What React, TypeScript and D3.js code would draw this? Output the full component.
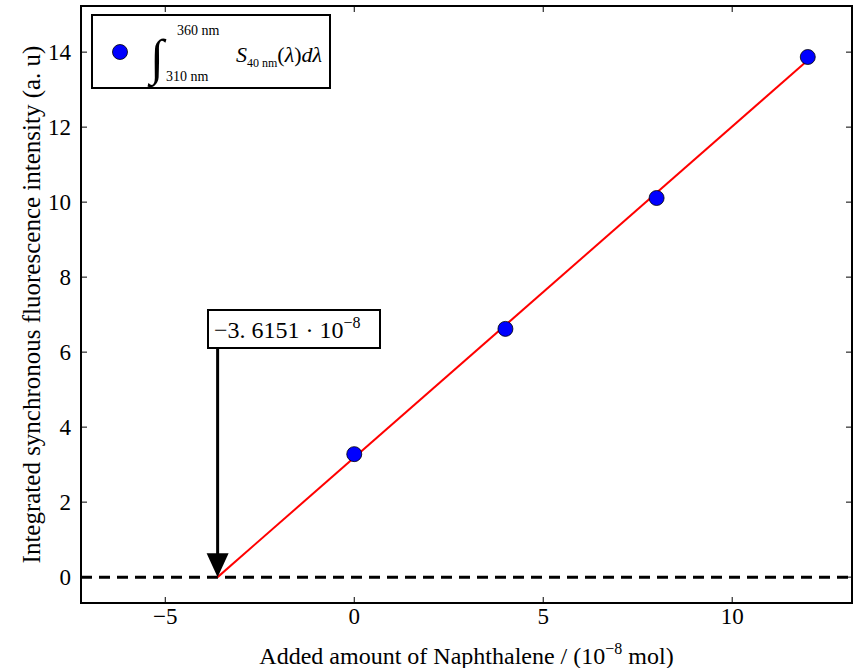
import React from "react";
import * as d3 from "d3";

const amounts = [0, 4, 8, 12];
const intensities = [3.28, 6.62, 10.11, 13.87];
const xIntercept = -3.6151;
const fitSlope = 0.8825;
const xTicks = [-5, 0, 5, 10];
const yTicks = [0, 2, 4, 6, 8, 10, 12, 14];
const xDomain = [-7.23, 13.17];
const yDomain = [-0.69, 15.23];

const W = 856, H = 668;
const L = 81, R = 852, T = 6, B = 603;
const FONT = "'Liberation Serif', 'DejaVu Serif', serif";

export default function App() {
  const x = d3.scaleLinear().domain(xDomain).range([L, R]);
  const y = d3.scaleLinear().domain(yDomain).range([B, T]);
  const fitX = [xIntercept, amounts[amounts.length - 1]];
  const fitLine = d3.line<number>().x((d) => x(d)).y((d) => y(fitSlope * (d - xIntercept)));
  const ax = x(xIntercept);
  const tick = 6;
  return (
    <svg width={W} height={H} style={{ position: "absolute", left: 0, top: 0, background: "#fff" }}>
      <rect x={0} y={0} width={W} height={H} fill="#fff" />
      {/* dashed zero line */}
      <line x1={L} x2={R} y1={y(0)} y2={y(0)} stroke="#000" strokeWidth={3} strokeDasharray="11,7" />
      {/* fit line */}
      <path d={fitLine(fitX) || ""} stroke="#ff0000" strokeWidth={2} fill="none" />
      {/* points */}
      {amounts.map((a, i) => (
        <circle key={i} cx={x(a)} cy={y(intensities[i])} r={7.5} fill="#0000ff" stroke="#000" strokeWidth={0.8} />
      ))}
      {/* annotation arrow */}
      <line x1={ax} x2={ax} y1={348} y2={y(0) - 22} stroke="#000" strokeWidth={3} />
      <path d={`M${ax - 11},${y(0) - 24} L${ax + 11},${y(0) - 24} L${ax},${y(0)} Z`} fill="#000" />
      <rect x={208} y={310} width={172} height={38} fill="#fff" stroke="#000" strokeWidth={2} />
      <text x={214} y={338} fontFamily={FONT} fontSize={24}>
        <tspan>−3. 6151 · 10</tspan>
        <tspan fontSize={16} dy={-10}>−8</tspan>
      </text>
      {/* frame */}
      <rect x={L} y={T} width={R - L} height={B - T} fill="none" stroke="#000" strokeWidth={2} />
      {/* ticks */}
      {xTicks.map((t) => (
        <g key={"x" + t}>
          <line x1={x(t)} x2={x(t)} y1={B} y2={B - tick} stroke="#000" strokeWidth={1} />
          <line x1={x(t)} x2={x(t)} y1={T} y2={T + tick} stroke="#000" strokeWidth={1} />
          <text x={x(t)} y={624} textAnchor="middle" fontFamily={FONT} fontSize={23}>
            {t < 0 ? "−" + Math.abs(t) : t}
          </text>
        </g>
      ))}
      {yTicks.map((t) => (
        <g key={"y" + t}>
          <line x1={L} x2={L + tick} y1={y(t)} y2={y(t)} stroke="#000" strokeWidth={1} />
          <line x1={R} x2={R - tick} y1={y(t)} y2={y(t)} stroke="#000" strokeWidth={1} />
          <text x={71} y={y(t) + 8} textAnchor="end" fontFamily={FONT} fontSize={23}>
            {t}
          </text>
        </g>
      ))}
      {/* axis labels */}
      <text x={(L + R) / 2} y={664} textAnchor="middle" fontFamily={FONT} fontSize={24}>
        <tspan>Added amount of Naphthalene / (10</tspan>
        <tspan fontSize={16} dy={-10}>−8</tspan>
        <tspan dy={10}> mol)</tspan>
      </text>
      <text transform={`translate(40,${(T + B) / 2}) rotate(-90)`} textAnchor="middle" fontFamily={FONT} fontSize={25}>
        Integrated synchronous fluorescence intensity (a. u)
      </text>
      {/* legend */}
      <rect x={92} y={15} width={238} height={73} fill="#fff" stroke="#000" strokeWidth={2} />
      <circle cx={120} cy={52} r={7.5} fill="#0000ff" stroke="#000" strokeWidth={0.8} />
      <text x={150} y={74} fontFamily={FONT} fontSize={50} fontStyle="italic">∫</text>
      <text x={177} y={35} fontFamily={FONT} fontSize={14}>360 nm</text>
      <text x={166} y={81} fontFamily={FONT} fontSize={14}>310 nm</text>
      <text x={236} y={62} fontFamily={FONT} fontSize={22}>
        <tspan fontStyle="italic">S</tspan>
        <tspan fontSize={12} dy={5}>40 nm</tspan>
        <tspan dy={-5}>(</tspan>
        <tspan fontStyle="italic">λ</tspan>
        <tspan>)</tspan>
        <tspan fontStyle="italic">dλ</tspan>
      </text>
    </svg>
  );
}
